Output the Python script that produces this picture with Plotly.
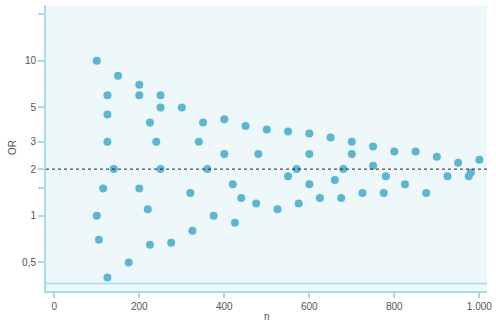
import plotly.graph_objects as go

n_values = [100, 150, 200, 125, 200, 250, 250, 300, 125, 225, 350, 125, 240, 340, 140, 250,
            115, 200, 320, 220, 100, 325, 105, 225, 275, 175, 125,
            400, 450, 500, 550, 600, 400, 480, 600, 360, 570, 550, 420, 600, 440, 475, 525, 575, 375, 425,
            650, 700, 750, 800, 700, 680, 750, 780, 660, 825, 625, 675, 725, 775,
            850, 900, 950, 1000, 925, 975, 980, 875]
or_values = [10, 8, 7, 6, 6, 6, 5, 5, 4.5, 4, 4, 3, 3, 3, 2, 2,
             1.5, 1.5, 1.4, 1.1, 1, 0.8, 0.7, 0.65, 0.67, 0.5, 0.4,
             4.2, 3.8, 3.6, 3.5, 3.4, 2.5, 2.5, 2.5, 2, 2, 1.8, 1.6, 1.6, 1.3, 1.2, 1.1, 1.2, 1, 0.9,
             3.2, 3.0, 2.8, 2.6, 2.5, 2, 2.1, 1.8, 1.7, 1.6, 1.3, 1.3, 1.4, 1.4,
             2.6, 2.4, 2.2, 2.3, 1.8, 1.8, 1.9, 1.4]

reference_or = 2
lower_line = 0.366
y_tickvals = [0.5, 1, 1.5, 2, 3, 5, 10, 20]
y_ticktext = ["0,5", "1", "", "2", "3", "5", "10", ""]
x_tickvals = [0, 200, 400, 600, 800, 1000]

axis_color = "#a9dbe7"
font = dict(family="Liberation Sans, Arial, sans-serif", size=10, color="#555555")

fig = go.Figure()
fig.add_trace(go.Scatter(
    x=n_values, y=or_values, mode="markers",
    marker=dict(size=8, color="#5bb6d2", line=dict(width=0)),
    showlegend=False, hoverinfo="skip",
))

fig.add_shape(type="line", xref="paper", yref="y", x0=0, x1=1,
              y0=reference_or, y1=reference_or,
              line=dict(color="#222222", width=1, dash="dot"))
fig.add_shape(type="line", xref="paper", yref="y", x0=0, x1=1,
              y0=lower_line, y1=lower_line,
              line=dict(color=axis_color, width=1.5))

fig.add_annotation(text="OR", xref="paper", yref="paper", x=0, y=0.5,
                   xanchor="center", yanchor="middle",
                   xshift=-34, textangle=-90, showarrow=False, font=font)
fig.add_annotation(text="n", xref="paper", yref="paper", x=0.5, y=0,
                   xanchor="center", yanchor="middle",
                   yshift=-25, showarrow=False, font=font)

fig.update_layout(
    width=496, height=324,
    margin=dict(l=46, r=9, t=5, b=33, autoexpand=False),
    paper_bgcolor="white",
    plot_bgcolor="#eef7fa",
    separators=",.",
    font=font,
    xaxis=dict(
        range=[-19.5, 1018], tickvals=x_tickvals, tickformat=",d",
        showgrid=False, zeroline=False, automargin=False,
        showline=True, linecolor=axis_color, linewidth=2,
        ticks="outside", ticklen=5, tickcolor=axis_color, tickwidth=2,
    ),
    yaxis=dict(
        type="log", range=[-0.4855, 1.36],
        tickvals=y_tickvals, ticktext=y_ticktext,
        showgrid=False, zeroline=False, automargin=False,
        showline=True, linecolor=axis_color, linewidth=2,
        ticks="outside", ticklen=6, tickcolor=axis_color, tickwidth=2,
    ),
)

fig.write_html("out.html")
